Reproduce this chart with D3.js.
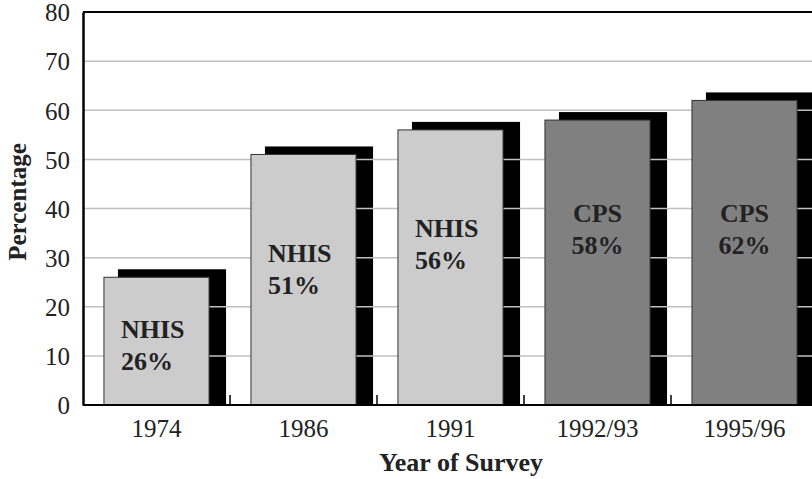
<!DOCTYPE html>
<html>
<head>
<meta charset="utf-8">
<script src="https://cdn.jsdelivr.net/npm/d3@7"></script>
<style>
  html, body { margin: 0; padding: 0; background: #fff; }
  svg { display: block; }
</style>
</head>
<body>
<svg id="chart" width="812" height="479"></svg>
<script>
// ---- data ----
const categories = ["1974", "1986", "1991", "1992/93", "1995/96"];
const values = [26, 51, 56, 58, 62];
const surveys = ["NHIS", "NHIS", "NHIS", "CPS", "CPS"];
const labelLevels = [13.6, 29.1, 34.2, 37.3, 37.3]; // data-unit height of label first line
const yTicks = [0, 10, 20, 30, 40, 50, 60, 70, 80];
const gridTicks = [10, 20, 30, 40, 50, 60, 70];
const xTitle = "Year of Survey";
const yTitle = "Percentage";

(function () {
// ---- layout ----
const svg = d3.select("#chart");
const pL = 83, pR = 818, pT = 12, pB = 405;
const serif = "'Liberation Serif', 'Times New Roman', serif";

const x = d3.scaleBand().domain(categories).range([pL, pR])
  .paddingInner(0.285).paddingOuter(0.1425);
const step = x.step();
const y = d3.scaleLinear().domain([0, 80]).range([pB, pT]);

const colorFor = s => s === "CPS" ? "#808080" : "#cccccc";
const data = categories.map((c, i) => ({ c, v: values[i], s: surveys[i], l: labelLevels[i] }));

// shadows
svg.append("g").selectAll("rect").data(data).join("rect")
  .attr("x", d => x(d.c) + 14)
  .attr("y", d => y(d.v) - 8)
  .attr("width", x.bandwidth() + 3)
  .attr("height", d => pB - (y(d.v) - 8))
  .attr("fill", "#000");

// gridlines
svg.append("g").selectAll("line").data(gridTicks).join("line")
  .attr("x1", pL).attr("x2", 830)
  .attr("y1", d => y(d)).attr("y2", d => y(d))
  .attr("stroke", "#c0c0c0").attr("stroke-width", 1.5);

// top frame line
svg.append("line").attr("x1", pL).attr("x2", 830)
  .attr("y1", pT).attr("y2", pT)
  .attr("stroke", "#000").attr("stroke-width", 2);

// bars
svg.append("g").selectAll("rect").data(data).join("rect")
  .attr("x", d => x(d.c))
  .attr("y", d => y(d.v))
  .attr("width", x.bandwidth())
  .attr("height", d => pB - y(d.v))
  .attr("fill", d => colorFor(d.s))
  .attr("stroke", "#333").attr("stroke-width", 1);

// baseline
svg.append("line").attr("x1", pL).attr("x2", 830)
  .attr("y1", pB).attr("y2", pB)
  .attr("stroke", "#000").attr("stroke-width", 2);

// category boundary ticks (inside)
const bounds = categories.slice(1).map((c, i) => pL + (i + 1) * step);
svg.append("g").selectAll("line").data(bounds).join("line")
  .attr("x1", d => d).attr("x2", d => d)
  .attr("y1", pB - 10).attr("y2", pB)
  .attr("stroke", "#000").attr("stroke-width", 1.5);

// y axis
const yAxis = svg.append("g").attr("transform", `translate(${pL},0)`)
  .call(d3.axisLeft(y).tickValues(yTicks).tickSize(0).tickPadding(13).tickFormat(d3.format("d")));
yAxis.select(".domain").attr("stroke", "#000").attr("stroke-width", 2.5);
yAxis.selectAll("text").attr("font-family", serif).attr("font-size", 25)
  .attr("fill", "#222").attr("dy", "0.35em");

// x axis labels
const xAxis = svg.append("g").attr("transform", `translate(0,${pB})`)
  .call(d3.axisBottom(x).tickSize(0).tickPadding(0));
xAxis.select(".domain").remove();
xAxis.selectAll("text").attr("font-family", serif).attr("font-size", 25)
  .attr("fill", "#222").attr("dy", null).attr("y", 32);

// bar labels
const lab = svg.append("g").selectAll("text").data(data).join("text")
  .attr("font-family", serif).attr("font-weight", "bold").attr("font-size", 26)
  .attr("fill", "#222")
  .attr("text-anchor", d => d.s === "CPS" ? "middle" : "start")
  .attr("x", d => d.s === "CPS" ? x(d.c) + x.bandwidth() / 2 : x(d.c) + 17)
  .attr("y", d => y(d.l));
lab.append("tspan").text(d => d.s);
lab.append("tspan")
  .attr("x", d => d.s === "CPS" ? x(d.c) + x.bandwidth() / 2 : x(d.c) + 17)
  .attr("dy", 32).text(d => d.v + "%");

// axis titles
svg.append("text").attr("x", 461).attr("y", 471).attr("text-anchor", "middle")
  .attr("font-family", serif).attr("font-weight", "bold").attr("font-size", 26)
  .attr("fill", "#222").text(xTitle);
svg.append("text").attr("transform", "translate(26,202) rotate(-90)")
  .attr("text-anchor", "middle")
  .attr("font-family", serif).attr("font-weight", "bold").attr("font-size", 25)
  .attr("fill", "#222").text(yTitle);
})();
</script>
</body>
</html>
